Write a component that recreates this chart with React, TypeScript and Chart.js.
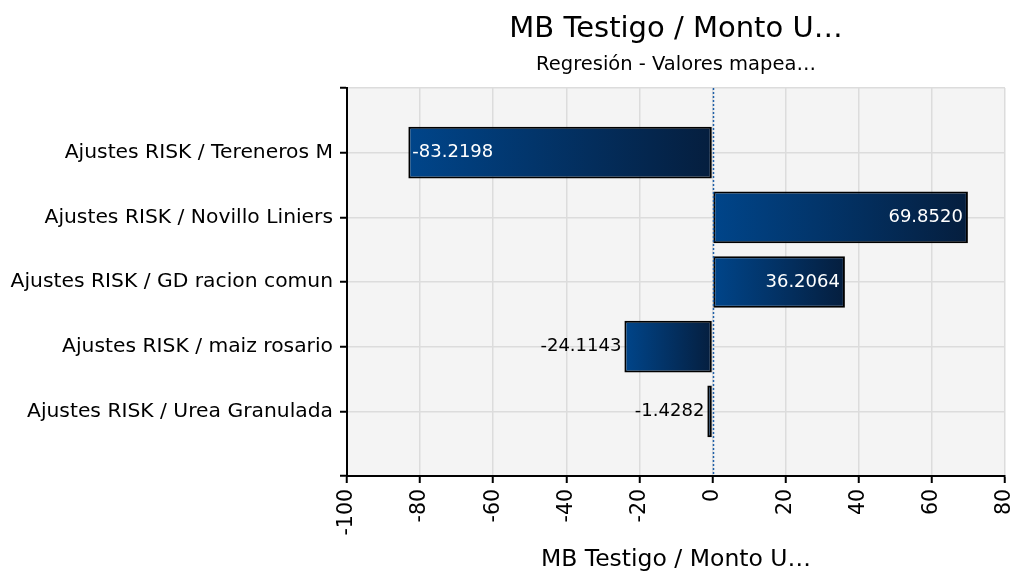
import React, { useEffect, useRef } from "react";
import { Chart, registerables } from "chart.js";

Chart.register(...registerables);

const categories = [
  "",
  "Ajustes RISK / Tereneros M",
  "Ajustes RISK / Novillo Liniers",
  "Ajustes RISK / GD racion comun",
  "Ajustes RISK / maiz rosario",
  "Ajustes RISK / Urea Granulada",
  "",
];
const values: (number | null)[] = [null, -83.2198, 69.852, 36.2064, -24.1143, -1.4282, null];
const valueLabels = ["", "-83.2198", "69.8520", "36.2064", "-24.1143", "-1.4282", ""];

const titleText = "MB Testigo / Monto U…";
const subtitleText = "Regresión - Valores mapea…";
const xAxisTitle = "MB Testigo / Monto U…";
const xMin = -100;
const xMax = 80;
const xStep = 20;

const FONT = "'DejaVu Sans', sans-serif";

const bgPlugin = {
  id: "plotBg",
  beforeDraw(chart: any) {
    const { ctx, chartArea } = chart;
    ctx.save();
    ctx.fillStyle = "#f4f4f4";
    ctx.fillRect(chartArea.left, chartArea.top, chartArea.right - chartArea.left, chartArea.bottom - chartArea.top);
    ctx.restore();
  },
};

const zeroLinePlugin = {
  id: "zeroLine",
  afterDatasetsDraw(chart: any) {
    const { ctx, chartArea } = chart;
    const x = Math.round(chart.scales.x.getPixelForValue(0)) + 0.5;
    ctx.save();
    ctx.strokeStyle = "#1f5fa8";
    ctx.lineWidth = 1.5;
    ctx.setLineDash([2, 2]);
    ctx.beginPath();
    ctx.moveTo(x, chartArea.top);
    ctx.lineTo(x, chartArea.bottom);
    ctx.stroke();
    ctx.restore();
  },
};

const labelPlugin = {
  id: "valueLabels",
  afterDraw(chart: any) {
    const { ctx } = chart;
    const meta = chart.getDatasetMeta(0);
    ctx.save();
    ctx.font = `18px ${FONT}`;
    ctx.textBaseline = "middle";
    meta.data.forEach((el: any, i: number) => {
      const v = values[i];
      if (v == null) return;
      const text = valueLabels[i];
      const w = ctx.measureText(text).width;
      const len = Math.abs(el.x - el.base);
      const inside = w + 12 < len;
      const y = el.y;
      if (v < 0) {
        if (inside) {
          ctx.fillStyle = "#ffffff";
          ctx.textAlign = "left";
          ctx.fillText(text, el.x + 4, y);
        } else {
          ctx.fillStyle = "#000000";
          ctx.textAlign = "right";
          ctx.fillText(text, el.x - 3, y);
        }
      } else {
        if (inside) {
          ctx.fillStyle = "#ffffff";
          ctx.textAlign = "right";
          ctx.fillText(text, el.x - 5, y);
        } else {
          ctx.fillStyle = "#000000";
          ctx.textAlign = "left";
          ctx.fillText(text, el.x + 4, y);
        }
      }
    });
    ctx.restore();
  },
};

export default function App() {
  const canvasRef = useRef<HTMLCanvasElement | null>(null);

  useEffect(() => {
    if (!canvasRef.current) return;
    Chart.defaults.font.family = FONT;
    Chart.defaults.color = "#000";
    const chart = new Chart(canvasRef.current, {
      type: "bar",
      data: {
        labels: categories,
        datasets: [
          {
            data: values,
            backgroundColor: (c: any) => {
              const v = c.raw;
              const chartObj = c.chart;
              const xs = chartObj.scales?.x;
              if (v == null || !xs) return "#003366";
              const a = xs.getPixelForValue(0);
              const b = xs.getPixelForValue(v);
              const l = Math.min(a, b);
              const r = Math.max(a, b);
              if (!isFinite(l) || !isFinite(r) || r - l < 1) return "#003a75";
              const g = chartObj.ctx.createLinearGradient(l, 0, r, 0);
              g.addColorStop(0, "#00458a");
              g.addColorStop(1, "#051e3e");
              return g;
            },
            borderColor: "#000000",
            borderWidth: 2,
            borderSkipped: false,
            barPercentage: 0.8,
            categoryPercentage: 1,
          },
        ],
      },
      options: {
        animation: false,
        responsive: true,
        maintainAspectRatio: false,
        indexAxis: "y",
        layout: { padding: { left: 0, right: 11, top: 0, bottom: 0 } },
        plugins: {
          legend: { display: false },
          tooltip: { enabled: false },
          title: {
            display: true,
            text: titleText,
            fullSize: false,
            color: "#000",
            font: { size: 29, weight: "normal", family: FONT, lineHeight: 1.2 },
            padding: { top: 12, bottom: 3 },
          },
          subtitle: {
            display: true,
            text: subtitleText,
            fullSize: false,
            color: "#000",
            font: { size: 19.5, weight: "normal", family: FONT, lineHeight: 1.2 },
            padding: { top: 3, bottom: 11.8 },
          },
        },
        scales: {
          x: {
            type: "linear",
            min: xMin,
            max: xMax,
            ticks: {
              stepSize: xStep,
              minRotation: 90,
              maxRotation: 90,
              color: "#000",
              padding: 6,
              font: { size: 20.5, family: FONT },
            },
            grid: {
              color: "#dcdcdc",
              lineWidth: 1.5,
              tickColor: "#000",
              tickWidth: 2,
              tickLength: 7,
            },
            border: { color: "#000", width: 2 },
            title: {
              display: true,
              text: xAxisTitle,
              color: "#000",
              font: { size: 23.5, family: FONT, lineHeight: 1.2 },
              padding: { top: 0, bottom: 0 },
            },
            afterFit: (s: any) => {
              s.height = 98;
              s.paddingRight = 0;
              s.paddingLeft = 0;
            },
          },
          y: {
            type: "category",
            offset: false,
            ticks: {
              color: "#000",
              padding: 7,
              font: { size: 20.3, family: FONT },
              autoSkip: false,
            },
            grid: {
              offset: false,
              color: "#dcdcdc",
              lineWidth: 1.5,
              tickColor: "#000",
              tickWidth: 2,
              tickLength: 7,
            },
            border: { color: "#000", width: 2 },
            afterFit: (s: any) => {
              s.width = 347;
              s.paddingTop = 0;
              s.paddingBottom = 0;
            },
          },
        },
      },
      plugins: [bgPlugin, zeroLinePlugin, labelPlugin],
    } as any);
    return () => chart.destroy();
  }, []);

  return (
    <div style={{ position: "absolute", left: 0, top: 0, width: 1016, height: 574, background: "#fff" }}>
      <canvas ref={canvasRef} />
    </div>
  );
}
